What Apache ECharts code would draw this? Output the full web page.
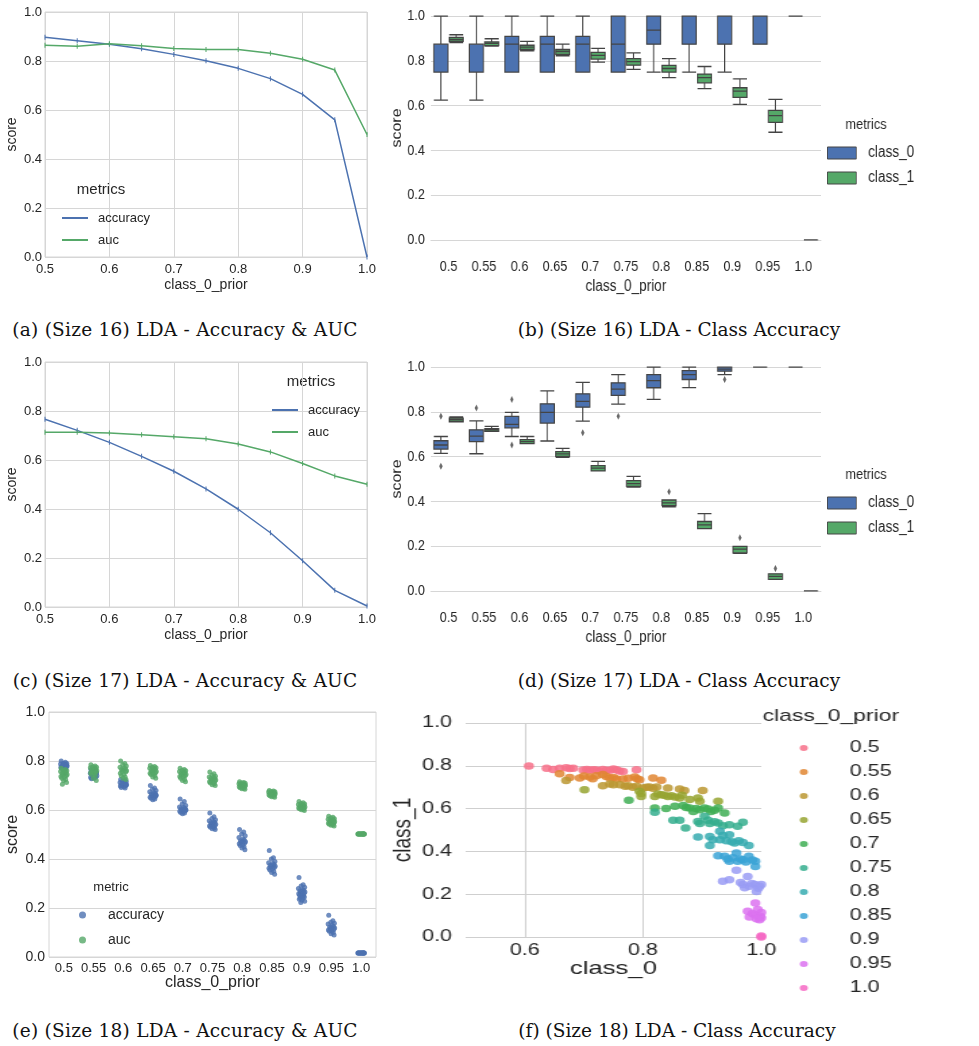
<!DOCTYPE html>
<html>
<head>
<meta charset="utf-8">
<script src="https://cdn.jsdelivr.net/npm/echarts@6/dist/echarts.min.js"></script>
<style>
body { margin: 0; background: #fff; width: 979px; height: 1046px; position: relative; overflow: hidden; }
.panel { position: absolute; }
.cap { position: absolute; font-family: 'DejaVu Serif', serif; font-size: 18.5px; line-height: 22px; color: #111; white-space: nowrap; transform: translateX(-50%); }
</style>
</head>
<body>
<div id="pa" class="panel" style="left:0;top:0;width:390px;height:300px"></div>
<div id="pb" class="panel" style="left:390px;top:0;width:693px;height:300px;transform:scaleX(0.85);transform-origin:0 0"></div>
<div id="pc" class="panel" style="left:0;top:350px;width:390px;height:300px"></div>
<div id="pd" class="panel" style="left:390px;top:350px;width:693px;height:300px;transform:scaleX(0.85);transform-origin:0 0"></div>
<div id="pe" class="panel" style="left:0;top:700px;width:390px;height:300px"></div>
<div id="pf" class="panel" style="left:390px;top:700px;width:436px;height:310px;transform:scaleX(1.35);transform-origin:0 0"></div>

<div class="cap" style="left:185px;top:319px;letter-spacing:0.25px">(a) (Size 16) LDA - Accuracy &amp; AUC</div>
<div class="cap" style="left:679px;top:319px">(b) (Size 16) LDA - Class Accuracy</div>
<div class="cap" style="left:185px;top:670px;letter-spacing:0.25px">(c) (Size 17) LDA - Accuracy &amp; AUC</div>
<div class="cap" style="left:679px;top:670px">(d) (Size 17) LDA - Class Accuracy</div>
<div class="cap" style="left:185px;top:1020px;letter-spacing:0.25px">(e) (Size 18) LDA - Accuracy &amp; AUC</div>
<div class="cap" style="left:677px;top:1020px">(f) (Size 18) LDA - Class Accuracy</div>

<script>
// categories
const priors = ['0.5', '0.55', '0.6', '0.65', '0.7', '0.75', '0.8', '0.85', '0.9', '0.95', '1.0'];
const priorVals = [0.5, 0.55, 0.6, 0.65, 0.7, 0.75, 0.8, 0.85, 0.9, 0.95, 1.0];

// (a) size 16, mean scores
const accA = [0.897, 0.883, 0.868, 0.850, 0.827, 0.801, 0.770, 0.728, 0.664, 0.560, 0.0];
const aucA = [0.864, 0.860, 0.870, 0.862, 0.851, 0.847, 0.847, 0.832, 0.807, 0.763, 0.50];

// (b) size 16, boxes [min, q1, median, q3, max]
const class0B = [
    [0.625, 0.75, 0.875, 0.875, 1.0],
    [0.625, 0.75, 0.875, 0.875, 1.0],
    [0.75, 0.75, 0.875, 0.91, 1.0],
    [0.75, 0.75, 0.875, 0.91, 1.0],
    [0.75, 0.75, 0.875, 0.91, 1.0],
    [0.75, 0.75, 0.875, 1.0, 1.0],
    [0.75, 0.875, 0.9375, 1.0, 1.0],
    [0.75, 0.875, 1.0, 1.0, 1.0],
    [0.75, 0.875, 1.0, 1.0, 1.0],
    [0.875, 0.875, 1.0, 1.0, 1.0],
    [1.0, 1.0, 1.0, 1.0, 1.0],
];
const class1B = [
    [0.882, 0.888, 0.896, 0.905, 0.917],
    [0.866, 0.868, 0.878, 0.885, 0.899],
    [0.845, 0.851, 0.862, 0.870, 0.887],
    [0.823, 0.829, 0.842, 0.851, 0.875],
    [0.795, 0.808, 0.825, 0.838, 0.856],
    [0.762, 0.781, 0.797, 0.810, 0.836],
    [0.725, 0.750, 0.766, 0.780, 0.810],
    [0.676, 0.702, 0.725, 0.741, 0.775],
    [0.606, 0.637, 0.665, 0.680, 0.720],
    [0.481, 0.525, 0.555, 0.579, 0.628],
    [0, 0, 0, 0, 0],
];

// (c) size 17, mean scores
const accC = [0.766, 0.721, 0.672, 0.615, 0.554, 0.482, 0.399, 0.303, 0.189, 0.068, 0.004];
const aucC = [0.713, 0.713, 0.710, 0.703, 0.695, 0.687, 0.665, 0.633, 0.586, 0.535, 0.501];

// (d) size 17, boxes and outliers [category index, value]
const class0D = [
    [0.615, 0.634, 0.652, 0.671, 0.690],
    [0.613, 0.667, 0.692, 0.720, 0.760],
    [0.690, 0.729, 0.744, 0.780, 0.798],
    [0.670, 0.750, 0.798, 0.836, 0.894],
    [0.759, 0.821, 0.847, 0.881, 0.932],
    [0.835, 0.874, 0.902, 0.930, 0.967],
    [0.856, 0.908, 0.940, 0.967, 1.0],
    [0.909, 0.945, 0.967, 0.985, 1.0],
    [0.967, 0.982, 0.991, 1.0, 1.0],
    [1.0, 1.0, 1.0, 1.0, 1.0],
    [1.0, 1.0, 1.0, 1.0, 1.0],
];
const class1D = [
    [0.756, 0.756, 0.765, 0.772, 0.778],
    [0.713, 0.713, 0.720, 0.725, 0.735],
    [0.658, 0.658, 0.667, 0.676, 0.690],
    [0.597, 0.601, 0.612, 0.622, 0.637],
    [0.536, 0.536, 0.549, 0.560, 0.579],
    [0.464, 0.467, 0.479, 0.493, 0.512],
    [0.376, 0.381, 0.393, 0.406, 0.406],
    [0.278, 0.278, 0.295, 0.310, 0.345],
    [0.167, 0.170, 0.186, 0.199, 0.199],
    [0.051, 0.051, 0.065, 0.076, 0.076],
    [0, 0, 0, 0, 0],
];
const out0D = [[0, 0.781], [0, 0.557], [1, 0.818], [2, 0.856], [2, 0.652], [4, 0.707], [5, 0.781], [8, 0.945]];
const out1D = [[6, 0.443], [8, 0.237], [9, 0.100]];

// (e) size 18, per-run scores for each prior
const accE = [
    [0.80, 0.795, 0.79, 0.79, 0.788, 0.785, 0.785, 0.782, 0.78, 0.78, 0.778, 0.775, 0.775, 0.772, 0.77, 0.768, 0.79, 0.783],
    [0.765, 0.76, 0.755, 0.752, 0.75, 0.748, 0.745, 0.745, 0.742, 0.74, 0.738, 0.735, 0.733, 0.73, 0.728, 0.748, 0.742, 0.75],
    [0.725, 0.72, 0.718, 0.715, 0.712, 0.71, 0.708, 0.706, 0.705, 0.703, 0.70, 0.70, 0.698, 0.695, 0.692, 0.69, 0.71, 0.702],
    [0.70, 0.69, 0.685, 0.68, 0.675, 0.67, 0.668, 0.665, 0.662, 0.66, 0.658, 0.655, 0.652, 0.65, 0.648, 0.645, 0.642, 0.66],
    [0.645, 0.635, 0.625, 0.618, 0.612, 0.61, 0.607, 0.605, 0.603, 0.60, 0.598, 0.597, 0.595, 0.593, 0.59, 0.588, 0.585, 0.602],
    [0.588, 0.572, 0.565, 0.56, 0.556, 0.552, 0.55, 0.547, 0.545, 0.542, 0.54, 0.537, 0.535, 0.532, 0.53, 0.527, 0.523, 0.52],
    [0.52, 0.51, 0.502, 0.495, 0.488, 0.482, 0.478, 0.475, 0.472, 0.47, 0.467, 0.465, 0.462, 0.458, 0.455, 0.45, 0.445, 0.438],
    [0.435, 0.405, 0.40, 0.39, 0.385, 0.382, 0.378, 0.375, 0.372, 0.37, 0.367, 0.365, 0.362, 0.36, 0.355, 0.35, 0.345, 0.338],
    [0.325, 0.295, 0.29, 0.285, 0.28, 0.275, 0.272, 0.27, 0.268, 0.265, 0.262, 0.26, 0.258, 0.255, 0.252, 0.25, 0.248, 0.245, 0.242, 0.24, 0.236, 0.232, 0.228, 0.222],
    [0.17, 0.148, 0.142, 0.138, 0.135, 0.13, 0.125, 0.122, 0.12, 0.118, 0.115, 0.112, 0.11, 0.107, 0.105, 0.10, 0.095, 0.09],
    [0.016, 0.016, 0.016, 0.016, 0.016, 0.016, 0.016, 0.016, 0.016, 0.016, 0.016, 0.016, 0.016, 0.016, 0.016, 0.016, 0.016, 0.016],
];
const aucE = [
    [0.77, 0.765, 0.762, 0.76, 0.757, 0.755, 0.752, 0.75, 0.748, 0.745, 0.742, 0.74, 0.737, 0.735, 0.73, 0.725, 0.72, 0.712, 0.705],
    [0.785, 0.78, 0.777, 0.775, 0.772, 0.77, 0.767, 0.765, 0.762, 0.76, 0.757, 0.755, 0.752, 0.75, 0.745, 0.74, 0.73, 0.72],
    [0.80, 0.79, 0.785, 0.78, 0.775, 0.77, 0.768, 0.765, 0.762, 0.76, 0.757, 0.755, 0.75, 0.745, 0.74, 0.735, 0.73, 0.725],
    [0.782, 0.778, 0.775, 0.772, 0.77, 0.768, 0.765, 0.762, 0.76, 0.757, 0.755, 0.752, 0.75, 0.747, 0.745, 0.74, 0.735, 0.73],
    [0.77, 0.765, 0.762, 0.76, 0.757, 0.755, 0.752, 0.75, 0.748, 0.745, 0.742, 0.74, 0.737, 0.735, 0.73, 0.725, 0.72, 0.715],
    [0.755, 0.748, 0.742, 0.738, 0.735, 0.732, 0.73, 0.728, 0.725, 0.722, 0.72, 0.718, 0.715, 0.712, 0.71, 0.707, 0.703, 0.70],
    [0.715, 0.712, 0.71, 0.709, 0.707, 0.705, 0.704, 0.703, 0.702, 0.70, 0.699, 0.697, 0.695, 0.693, 0.691, 0.689, 0.687, 0.685],
    [0.68, 0.678, 0.676, 0.675, 0.673, 0.672, 0.67, 0.668, 0.667, 0.666, 0.665, 0.663, 0.662, 0.66, 0.658, 0.656, 0.654, 0.652],
    [0.635, 0.63, 0.627, 0.624, 0.622, 0.62, 0.618, 0.616, 0.614, 0.612, 0.61, 0.609, 0.608, 0.606, 0.605, 0.603, 0.601, 0.598],
    [0.575, 0.57, 0.567, 0.564, 0.562, 0.56, 0.558, 0.556, 0.554, 0.552, 0.55, 0.548, 0.546, 0.544, 0.542, 0.54, 0.538, 0.535],
    [0.502, 0.502, 0.502, 0.502, 0.502, 0.502, 0.502, 0.502, 0.502, 0.502, 0.502, 0.502, 0.502, 0.502, 0.502, 0.502, 0.502, 0.502],
];

// (f) size 18, [class_0, class_1] per run, grouped by prior
const scatterF = [
    [[0.607, 0.799], [0.637, 0.788], [0.648, 0.783], [0.659, 0.788], [0.670, 0.791], [0.676, 0.787], [0.682, 0.788], [0.699, 0.780], [0.705, 0.783], [0.710, 0.779], [0.716, 0.782], [0.721, 0.780], [0.727, 0.776], [0.732, 0.783], [0.738, 0.779], [0.744, 0.779], [0.750, 0.785], [0.755, 0.782], [0.760, 0.776], [0.766, 0.773], [0.789, 0.782]],
    [[0.659, 0.763], [0.676, 0.745], [0.693, 0.743], [0.700, 0.752], [0.710, 0.748], [0.715, 0.740], [0.721, 0.754], [0.732, 0.759], [0.738, 0.750], [0.744, 0.743], [0.750, 0.745], [0.755, 0.738], [0.766, 0.738], [0.775, 0.742], [0.786, 0.748], [0.790, 0.740], [0.794, 0.735], [0.817, 0.743], [0.831, 0.732]],
    [[0.670, 0.731], [0.732, 0.707], [0.744, 0.715], [0.750, 0.712], [0.761, 0.712], [0.770, 0.705], [0.775, 0.707], [0.783, 0.700], [0.789, 0.704], [0.800, 0.696], [0.806, 0.700], [0.811, 0.701], [0.817, 0.695], [0.823, 0.701], [0.842, 0.696], [0.862, 0.692], [0.870, 0.685], [0.901, 0.685]],
    [[0.701, 0.688], [0.794, 0.681], [0.797, 0.657], [0.797, 0.670], [0.820, 0.657], [0.825, 0.668], [0.831, 0.665], [0.836, 0.662], [0.842, 0.657], [0.848, 0.660], [0.854, 0.654], [0.862, 0.650], [0.866, 0.662], [0.879, 0.642], [0.893, 0.650], [0.896, 0.634], [0.927, 0.634]],
    [[0.776, 0.639], [0.820, 0.603], [0.839, 0.600], [0.854, 0.611], [0.868, 0.614], [0.873, 0.605], [0.879, 0.603], [0.885, 0.587], [0.890, 0.600], [0.896, 0.595], [0.904, 0.603], [0.910, 0.598], [0.915, 0.587], [0.921, 0.592], [0.927, 0.603], [0.938, 0.579]],
    [[0.820, 0.583], [0.851, 0.545], [0.862, 0.545], [0.872, 0.509], [0.893, 0.540], [0.896, 0.530], [0.904, 0.564], [0.910, 0.545], [0.913, 0.530], [0.921, 0.538], [0.927, 0.533], [0.935, 0.520], [0.946, 0.525], [0.960, 0.517], [0.969, 0.536]],
    [[0.893, 0.467], [0.913, 0.470], [0.913, 0.427], [0.918, 0.455], [0.930, 0.455], [0.930, 0.494], [0.935, 0.474], [0.941, 0.450], [0.946, 0.478], [0.950, 0.445], [0.955, 0.439], [0.962, 0.450], [0.969, 0.442], [0.979, 0.427]],
    [[0.927, 0.380], [0.938, 0.377], [0.943, 0.365], [0.946, 0.354], [0.952, 0.370], [0.958, 0.393], [0.960, 0.354], [0.965, 0.365], [0.969, 0.361], [0.974, 0.350], [0.979, 0.377], [0.985, 0.360], [0.990, 0.354], [0.990, 0.330]],
    [[0.935, 0.260], [0.946, 0.268], [0.958, 0.312], [0.965, 0.255], [0.969, 0.245], [0.972, 0.230], [0.977, 0.283], [0.980, 0.237], [0.984, 0.250], [0.989, 0.245], [0.992, 0.213], [0.995, 0.228], [0.997, 0.237], [1.0, 0.245]],
    [[0.990, 0.159], [0.977, 0.120], [0.980, 0.093], [0.985, 0.110], [0.989, 0.104], [0.992, 0.085], [0.994, 0.128], [0.997, 0.081], [0.998, 0.097], [1.0, 0.115], [1.0, 0.090]],
    [[1.0, 0.0], [1.0, 0.005]],
];

// styling
const TXT = '#262626';
const GRID = '#d6d6d6';
const EDGE = '#444444';
const SANS = "'Liberation Sans', Arial, sans-serif";
const BLUE = '#4c72b0';
const GREEN = '#55a868';
const HUE = ['#f77189', '#e08632', '#bb9832', '#97a431', '#3fae55', '#35ae8e', '#37abb0', '#3ba3d6', '#9a9cf4', '#dc72f0', '#f668c4'];
// stripplot jitter (fraction of a category band)
const JITTER = [-0.09, 0.05, -0.02, 0.1, -0.11, 0.03, 0.07, -0.06, 0.0, 0.11, -0.04, 0.08, -0.1, 0.02, -0.07, 0.06, -0.01, 0.09, -0.05, 0.04, -0.08, 0.01, 0.1, -0.03];

const fmt1 = v => Number(v).toFixed(1);
const ticks01 = [0, 0.2, 0.4, 0.6, 0.8, 1.0];

function label(size, extra) {
    return Object.assign({ fontFamily: SANS, fontSize: size, color: TXT }, extra || {});
}
function legendTitle(text, x, y, size) {
    return { type: 'text', x: x, y: y, style: { text: text, align: 'center', verticalAlign: 'middle', font: size + 'px ' + SANS, fill: TXT } };
}

// (a) / (c) line charts
function lineOption(acc, auc, leg, title) {
    return {
        animation: false,
        grid: { left: 45, top: 12, width: 322, height: 245, show: true, borderColor: GRID, borderWidth: 1, outerBoundsMode: 'none' },
        xAxis: {
            type: 'value', min: 0.5, max: 1.0, interval: 0.1,
            name: 'class_0_prior', nameLocation: 'middle', nameGap: 21, nameMoveOverlap: false, nameTextStyle: label(14),
            axisLine: { show: false }, axisTick: { show: false },
            axisLabel: label(13, { margin: 6, formatter: fmt1 }),
            splitLine: { lineStyle: { color: GRID } },
        },
        yAxis: {
            type: 'value', min: 0, max: 1.0, interval: 0.2,
            name: 'score', nameLocation: 'middle', nameGap: 26, nameMoveOverlap: false, nameTextStyle: label(14),
            axisLine: { show: false }, axisTick: { show: false },
            axisLabel: label(13, { margin: 3, formatter: fmt1 }),
            splitLine: { lineStyle: { color: GRID } },
        },
        legend: Object.assign({
            orient: 'vertical', icon: 'rect', itemWidth: 26, itemHeight: 2, itemGap: 8,
            textStyle: label(13, { lineHeight: 14, padding: [0, 0, 0, 5] }),
            data: ['accuracy', 'auc'],
        }, leg),
        graphic: [legendTitle('metrics', title[0], title[1], 15)],
        series: [
            { name: 'accuracy', type: 'line', color: BLUE, data: priorVals.map((x, i) => [x, acc[i]]), lineStyle: { width: 1.5 }, symbol: 'rect', symbolSize: [1, 5] },
            { name: 'auc', type: 'line', color: GREEN, data: priorVals.map((x, i) => [x, auc[i]]), lineStyle: { width: 1.5 }, symbol: 'rect', symbolSize: [1, 5] },
        ],
    };
}

// (b) / (d) box plots
function boxOption(c0, c1, top, out0, out1) {
    const series = [
        { name: 'class_0', type: 'boxplot', data: c0, boxWidth: [16.5, 16.5], itemStyle: { color: BLUE, borderColor: EDGE, borderWidth: 1.3 } },
        { name: 'class_1', type: 'boxplot', data: c1, boxWidth: [16.5, 16.5], itemStyle: { color: GREEN, borderColor: EDGE, borderWidth: 1.3 } },
    ];
    if (out0) {
        series.push({ type: 'scatter', data: out0, symbol: 'diamond', symbolSize: [4, 7], symbolOffset: [-9, 0], itemStyle: { color: EDGE } });
        series.push({ type: 'scatter', data: out1, symbol: 'diamond', symbolSize: [4, 7], symbolOffset: [9, 0], itemStyle: { color: EDGE } });
    }
    return {
        animation: false,
        grid: { left: 48, top: top, width: 459, height: 246, outerBoundsMode: 'none' },
        xAxis: {
            type: 'category', data: priors,
            name: 'class_0_prior', nameLocation: 'middle', nameGap: 28, nameMoveOverlap: false, nameTextStyle: label(16),
            axisLine: { lineStyle: { color: GRID } }, axisTick: { show: false },
            axisLabel: label(15, { margin: 8 }),
        },
        yAxis: {
            type: 'value', min: -0.05, max: 1.05,
            name: 'score', nameLocation: 'middle', nameGap: 31, nameMoveOverlap: false, nameTextStyle: label(16),
            axisLine: { show: false }, axisTick: { show: false, customValues: ticks01 },
            axisLabel: label(15, { margin: 7, customValues: ticks01, formatter: fmt1 }),
            splitLine: { lineStyle: { color: GRID } },
        },
        legend: {
            orient: 'vertical', left: 509, top: 140, icon: 'rect', itemWidth: 34, itemHeight: 12, itemGap: 9,
            textStyle: label(16, { lineHeight: 16, padding: [0, 0, 0, 9] }),
            data: [
                { name: 'class_0', itemStyle: { color: BLUE, borderColor: EDGE, borderWidth: 1 } },
                { name: 'class_1', itemStyle: { color: GREEN, borderColor: EDGE, borderWidth: 1 } },
            ],
        },
        graphic: [legendTitle('metrics', 560, 125, 15)],
        series: series,
    };
}

// (e) strip plot: x = category index + jitter
function stripData(groups) {
    const pts = [];
    groups.forEach((vals, i) => vals.forEach((y, k) => pts.push([i + JITTER[k % JITTER.length], y])));
    return pts;
}
const optionE = {
    animation: false,
    grid: { left: 49, top: 12, width: 327, height: 245, show: true, borderColor: GRID, borderWidth: 1, outerBoundsMode: 'none' },
    xAxis: {
        type: 'value', min: -0.5, max: 10.5,
        name: 'class_0_prior', nameLocation: 'middle', nameGap: 18, nameMoveOverlap: false, nameTextStyle: label(16),
        axisLine: { show: false }, axisTick: { show: false },
        axisLabel: label(13, { margin: 5, customValues: priors.map((p, i) => i), formatter: v => priors[Math.round(v)] }),
        splitLine: { show: false },
    },
    yAxis: {
        type: 'value', min: 0, max: 1.0, interval: 0.2,
        name: 'score', nameLocation: 'middle', nameGap: 28, nameMoveOverlap: false, nameTextStyle: label(16),
        axisLine: { show: false }, axisTick: { show: false },
        axisLabel: label(14, { margin: 4, formatter: fmt1 }),
        splitLine: { lineStyle: { color: GRID } },
    },
    legend: {
        orient: 'vertical', left: 74, top: 202, icon: 'circle', itemWidth: 7, itemHeight: 7, itemGap: 9,
        textStyle: label(14, { lineHeight: 16, padding: [0, 0, 0, 17] }),
        data: ['accuracy', 'auc'],
    },
    graphic: [legendTitle('metric', 111, 187, 13)],
    series: [
        { name: 'accuracy', type: 'scatter', color: BLUE, symbolSize: 5, data: stripData(accE) },
        { name: 'auc', type: 'scatter', color: GREEN, symbolSize: 5, data: stripData(aucE) },
    ],
};

// (f) class_0 vs class_1 scatter, hue = prior
const optionF = {
    animation: false,
    grid: { left: 56, top: 23, width: 219, height: 214, outerBoundsMode: 'none' },
    xAxis: {
        type: 'value', min: 0.5, max: 1.0,
        name: 'class_0', nameLocation: 'middle', nameGap: 22, nameMoveOverlap: false, nameTextStyle: label(19),
        axisLine: { show: false }, axisTick: { show: false, customValues: [0.6, 0.8] },
        axisLabel: label(16, { margin: 6, customValues: [0.6, 0.8, 1.0], formatter: fmt1 }),
        splitLine: { lineStyle: { color: '#cfcfcf' } },
    },
    yAxis: {
        type: 'value', min: 0, max: 1.0, interval: 0.2,
        name: 'class_1', nameLocation: 'middle', nameGap: 37, nameMoveOverlap: false, nameTextStyle: label(19),
        axisLine: { show: false }, axisTick: { show: false },
        axisLabel: label(16, { margin: 10, formatter: fmt1 }),
        splitLine: { lineStyle: { color: '#cfcfcf' } },
    },
    legend: {
        orient: 'vertical', left: 298.5, top: 35, icon: 'circle', itemWidth: 6, itemHeight: 6, itemGap: 8,
        textStyle: label(16, { lineHeight: 16, padding: [0, 0, 0, 26] }),
        data: priors,
    },
    graphic: [{ type: 'text', left: 276, top: 8, style: { text: 'class_0_prior', font: '17px ' + SANS, fill: TXT } }],
    series: scatterF.map((pts, i) => ({
        name: priors[i], type: 'scatter', data: pts, symbolSize: 7.5, clip: true,
        itemStyle: { color: HUE[i], opacity: 0.85 },
    })),
};

function draw(id, w, h, option) {
    const chart = echarts.init(document.getElementById(id), null, { width: w, height: h, renderer: 'canvas' });
    chart.setOption(option);
}

draw('pa', 390, 300, lineOption(accA, aucA, { left: 57, top: 206 }, [101, 190]));
draw('pb', 693, 300, boxOption(class0B, class1B, 5));
draw('pc', 390, 300, lineOption(accC, aucC, { left: 267, top: 48 }, [311, 32]));
draw('pd', 693, 300, boxOption(class0D, class1D, 6, out0D, out1D));
draw('pe', 390, 300, optionE);
draw('pf', 436, 310, optionF);
</script>
</body>
</html>
